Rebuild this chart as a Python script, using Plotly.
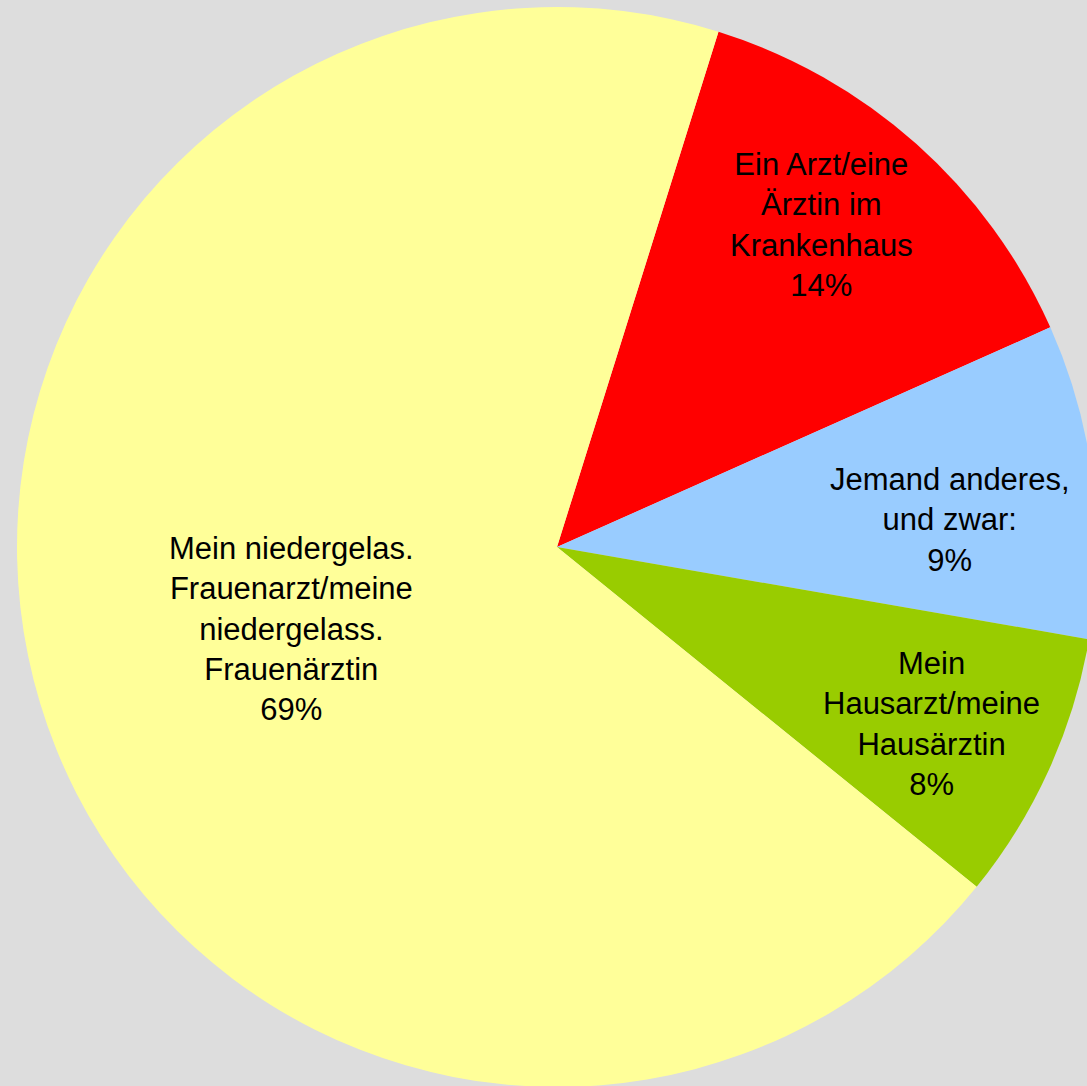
import math
import plotly.graph_objects as go

labels = [
    "Ein Arzt/eine<br>Ärztin im<br>Krankenhaus",
    "Jemand anderes,<br>und zwar:",
    "Mein<br>Hausarzt/meine<br>Hausärztin",
    "Mein niedergelas.<br>Frauenarzt/meine<br>niedergelass.<br>Frauenärztin",
]
values = [13.5, 9.4, 8.1, 69.0]
colors = ["#FF0000", "#99CCFF", "#99CC00", "#FFFF99"]

# label placement style (radius fraction, angle shift in degrees)
label_r = [0.771, 0.729, 0.767, 0.515]
label_shift = [-2.3, 3.1, 0.9, -0.3]

W, H = 1114, 1094
START = 17.4
dom_x = [17 / W, 1097 / W]
dom_y = [7 / H, 1087 / H]

fig = go.Figure(go.Pie(
    labels=labels,
    values=values,
    sort=False,
    direction="clockwise",
    rotation=START,
    marker=dict(colors=colors, line=dict(width=0)),
    textinfo="none",
    domain=dict(x=dom_x, y=dom_y),
    showlegend=False,
    hoverinfo="label+percent",
))

# label annotations computed from the slice values
cx = (dom_x[0] + dom_x[1]) / 2 * W
cy = (1 - (dom_y[0] + dom_y[1]) / 2) * H
R = min((dom_x[1] - dom_x[0]) * W, (dom_y[1] - dom_y[0]) * H) / 2
total = sum(values)
cum = 0.0
for lab, v, rf, sh in zip(labels, values, label_r, label_shift):
    mid = START + (cum + v / 2) / total * 360 + sh
    cum += v
    a = math.radians(mid)
    px = cx + rf * R * math.sin(a)
    py = cy - rf * R * math.cos(a)
    pct = round(v / total * 100)
    fig.add_annotation(
        x=px / W, y=1 - py / H, xref="paper", yref="paper",
        text=f"{lab}<br>{pct}%", showarrow=False,
        xanchor="center", yanchor="middle", align="center",
        font=dict(family="Liberation Sans, Arial, sans-serif", size=31, color="black"),
    )

fig.update_layout(
    width=W, height=H,
    margin=dict(l=0, r=0, t=0, b=0),
    paper_bgcolor="#DDDDDD",
    plot_bgcolor="#DDDDDD",
)
fig.write_html(
    "out.html",
    config={"displayModeBar": False},
    post_script="document.body.style.margin='0';document.body.style.overflow='hidden';document.body.style.background='#DDDDDD';",
)
